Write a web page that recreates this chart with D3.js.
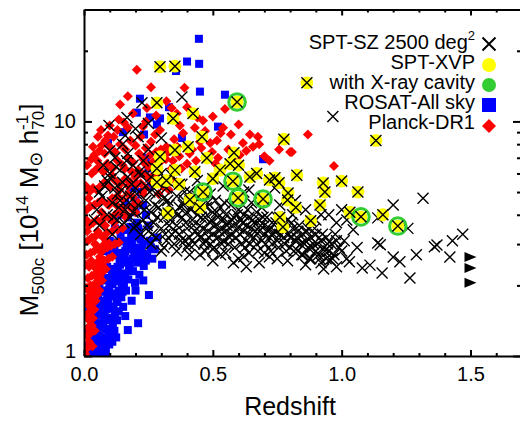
<!DOCTYPE html>
<html><head><meta charset="utf-8">
<script src="https://cdn.jsdelivr.net/npm/d3@7"></script>
<style>html,body{margin:0;padding:0;background:#fff;} svg{display:block;font-family:"Liberation Sans",Arial,Helvetica,sans-serif;}</style>
</head><body><svg id="c" width="520" height="424"></svg>
<script>
const xTicks=[0,0.5,1.0,1.5];
const xTickLabels=["0.0","0.5","1.0","1.5"];
const xMinor=[0.1,0.2,0.3,0.4,0.6,0.7,0.8,0.9,1.1,1.2,1.3,1.4,1.6];
const yTicks=[1,10];
const yTickLabels=["1","10"];
const yMinor=[2,3,4,5,6,7,8,9,20];

const rosat=[[0.02,1.0],[0.03,1.05],[0.04,1.02],[0.05,1.0],[0.06,1.03],[0.07,1.0],[0.025,1.12],[0.035,1.18],[0.045,1.1],[0.055,1.15],[0.065,1.12],[0.075,1.08],[0.085,1.05],[0.03,1.25],[0.04,1.3],[0.05,1.28],[0.06,1.22],[0.07,1.2],[0.08,1.18],[0.09,1.15],[0.035,1.4],[0.045,1.45],[0.055,1.38],[0.065,1.35],[0.075,1.32],[0.085,1.3],[0.095,1.28],[0.105,1.3],[0.04,1.55],[0.05,1.6],[0.06,1.52],[0.07,1.5],[0.08,1.48],[0.09,1.45],[0.1,1.42],[0.11,1.45],[0.12,1.5],[0.045,1.75],[0.055,1.8],[0.065,1.72],[0.075,1.68],[0.085,1.65],[0.095,1.62],[0.105,1.6],[0.115,1.62],[0.13,1.7],[0.05,1.95],[0.06,2.0],[0.07,1.9],[0.08,1.88],[0.09,1.85],[0.1,1.82],[0.11,1.8],[0.12,1.85],[0.135,1.9],[0.15,1.88],[0.06,2.2],[0.07,2.25],[0.08,2.15],[0.09,2.1],[0.1,2.05],[0.11,2.02],[0.12,2.08],[0.13,2.12],[0.145,2.2],[0.16,2.25],[0.07,2.5],[0.08,2.45],[0.09,2.4],[0.1,2.35],[0.11,2.3],[0.12,2.35],[0.13,2.4],[0.14,2.45],[0.155,2.5],[0.17,2.55],[0.19,2.6],[0.08,2.8],[0.1,2.75],[0.12,2.7],[0.14,2.75],[0.16,2.8],[0.18,2.85],[0.2,2.9],[0.1,3.1],[0.13,3.05],[0.16,3.1],[0.19,3.2],[0.22,3.15],[0.12,3.5],[0.15,3.45],[0.18,3.55],[0.21,3.5],[0.25,3.6],[0.14,4.0],[0.17,3.9],[0.2,4.1],[0.24,4.0],[0.16,4.5],[0.2,4.6],[0.23,4.4],[0.19,5.2],[0.22,5.0],[0.26,5.3],[0.21,6.0],[0.25,6.3],[0.28,6.1],[0.24,7.0],[0.3,7.2],[0.303,2.45],[0.252,1.82],[0.21,1.38],[0.17,1.29],[0.01,1.1],[0.015,1.3],[0.02,1.6],[0.446,22.5],[0.40,18.0],[0.447,17.6],[0.45,13.4],[0.547,13.0],[0.217,12.5],[0.357,16.4],[0.205,10.9],[0.256,10.4],[0.295,10.3],[0.283,9.7],[0.151,9.0],[0.093,8.1],[0.695,6.9],[0.233,8.8],[0.52,9.5],[0.38,8.5],[0.33,11.5],
[0.088,1.58],[0.097,1.92],[0.118,2.25],[0.126,1.72],[0.138,2.6],[0.147,2.05],[0.165,2.95],[0.175,2.35],[0.183,3.3],[0.195,2.75],[0.213,3.4],[0.228,3.0],[0.102,1.24],[0.112,1.36],[0.078,1.42],[0.068,1.62],[0.058,1.34],[0.048,1.22],[0.093,1.73],[0.108,2.18],[0.132,2.28],[0.158,2.65],[0.186,3.0],[0.205,3.7],[0.168,3.45],[0.142,3.25],[0.118,2.9],[0.125,1.2],[0.22,2.6],[0.26,2.9],[0.24,2.55],
[0.135,1.55],[0.145,1.78],[0.155,2.02],[0.163,1.9],[0.172,2.12],[0.178,2.48],[0.19,2.3],[0.198,2.05],[0.207,2.5],[0.215,2.22],[0.223,2.78],[0.232,2.42],[0.245,2.72],[0.255,3.1],[0.265,2.6],[0.275,2.85],[0.285,3.2],[0.128,1.42],[0.152,1.62],[0.118,1.28],[0.098,1.12],[0.082,1.02],[0.11,1.15],[0.185,1.72],[0.16,1.48],[0.23,2.1],[0.2,1.9]];

const planck=[[0.005,1.02],[0.012,1.08],[0.02,1.15],[0.01,1.22],[0.025,1.25],[0.015,1.32],[0.03,1.35],[0.02,1.42],[0.035,1.45],[0.01,1.5],[0.025,1.55],[0.04,1.58],[0.015,1.65],[0.03,1.7],[0.045,1.72],[0.02,1.8],[0.035,1.85],[0.05,1.82],[0.06,1.9],[0.01,1.95],[0.025,2.0],[0.04,2.02],[0.055,2.05],[0.07,2.1],[0.015,2.15],[0.03,2.2],[0.045,2.25],[0.06,2.2],[0.075,2.3],[0.085,2.35],[0.02,2.4],[0.035,2.45],[0.05,2.5],[0.065,2.45],[0.08,2.55],[0.095,2.6],[0.11,2.65],[0.01,2.7],[0.025,2.75],[0.04,2.8],[0.055,2.85],[0.07,2.8],[0.09,2.9],[0.105,2.95],[0.12,3.0],[0.135,3.05],[0.015,3.1],[0.03,3.2],[0.045,3.25],[0.06,3.3],[0.075,3.2],[0.09,3.35],[0.11,3.4],[0.13,3.45],[0.15,3.5],[0.02,3.6],[0.035,3.7],[0.05,3.8],[0.065,3.75],[0.08,3.9],[0.1,3.85],[0.12,4.0],[0.14,4.1],[0.16,4.05],[0.01,4.2],[0.025,4.35],[0.04,4.4],[0.055,4.5],[0.07,4.6],[0.09,4.45],[0.11,4.7],[0.13,4.8],[0.15,4.65],[0.17,4.9],[0.19,4.75],[0.02,5.0],[0.035,5.2],[0.05,5.1],[0.065,5.3],[0.08,5.5],[0.1,5.25],[0.12,5.6],[0.14,5.4],[0.16,5.7],[0.18,5.5],[0.2,5.8],[0.22,5.45],[0.03,6.0],[0.045,6.2],[0.06,6.4],[0.075,6.1],[0.09,6.6],[0.11,6.3],[0.13,6.8],[0.15,6.5],[0.17,7.0],[0.19,6.7],[0.21,6.2],[0.23,6.9],[0.25,6.4],[0.04,7.2],[0.06,7.5],[0.08,7.3],[0.1,7.8],[0.12,7.4],[0.14,8.0],[0.16,7.6],[0.18,8.3],[0.2,7.9],[0.22,8.6],[0.24,7.7],[0.26,8.2],[0.28,7.4],[0.035,7.8],[0.054,8.6],[0.093,8.7],[0.13,9.2],[0.17,9.4],[0.229,9.5],[0.295,9.2],[0.372,9.6],[0.43,9.4],[0.44,10.4],[0.462,10.1],[0.40,11.5],[0.34,11.4],[0.244,11.4],[0.205,16.6],[0.39,13.9],[0.547,11.3],[0.54,9.4],[0.57,8.8],[0.644,8.8],[0.675,8.6],[0.757,7.6],[0.80,7.4],[0.70,7.1],[0.617,8.1],[0.516,8.3],[0.497,7.4],[0.605,7.2],[0.656,7.8],[0.869,8.8],[0.807,7.4],[0.97,6.45],[0.3,6.8],[0.32,7.8],[0.35,8.4],[0.27,5.9],[0.31,5.6],[0.34,6.3],[0.37,7.1],[0.4,6.6],[0.42,7.6],[0.45,8.2],[0.48,6.9],[0.52,7.0],[0.56,7.6],[0.24,5.2],[0.26,5.6],[0.29,4.9],[0.33,5.1],[0.36,5.5],[0.21,4.5],[0.23,4.9],[0.18,4.3],[0.2,4.1],
[0.053,3.4],[0.068,4.1],[0.082,3.6],[0.097,4.4],[0.108,5.9],[0.117,3.7],[0.126,4.4],[0.138,5.1],[0.147,4.3],[0.158,6.3],[0.163,3.9],[0.172,5.3],[0.186,6.1],[0.193,4.4],[0.207,5.4],[0.214,7.3],[0.226,6.0],[0.237,6.6],[0.248,5.8],[0.257,7.2],[0.268,6.7],[0.276,8.8],[0.287,6.1],[0.298,7.6],[0.305,5.3],[0.318,6.9],[0.327,7.4],[0.338,5.7],[0.345,6.8],[0.362,7.8],[0.378,6.3],[0.385,8.9],[0.41,7.3],[0.435,6.8],[0.455,7.7],[0.47,9.1],[0.49,8.1],[0.51,6.6],[0.53,8.9],[0.58,7.0],[0.63,7.5],[0.68,8.0],[0.72,6.8],[0.062,2.65],[0.073,2.95],[0.087,3.1],[0.043,3.0],[0.028,2.55],[0.048,2.35],[0.038,1.95],[0.052,2.15],[0.027,1.62],[0.018,1.9],[0.033,1.1],[0.042,1.28],[0.008,1.75],[0.006,2.45],[0.012,3.4],[0.009,3.8],[0.018,4.7],[0.007,5.3],[0.012,6.5],[0.028,6.9],[0.052,6.8],[0.068,7.9],[0.083,8.3],[0.115,8.6],[0.135,10.2],[0.155,9.9],[0.19,10.8],[0.24,10.0],[0.1,9.6],[0.066,9.2],[0.14,11.8],[0.28,10.6],[0.32,12.2],[0.26,14.0],[0.17,12.8],[0.36,10.8],[0.5,10.5],[0.6,9.7]];

const sptsz=[[0.05,4.2],[0.06,3.6],[0.07,4.8],[0.08,5.3],[0.09,4.0],[0.097,9.6],[0.1,6.0],[0.11,4.5],[0.12,5.2],[0.12,7.0],[0.13,3.8],[0.14,4.6],[0.14,6.2],[0.15,5.5],[0.15,8.0],[0.16,4.2],[0.167,10.4],[0.17,5.8],[0.17,7.3],[0.18,3.9],[0.18,4.8],[0.19,6.5],[0.2,5.2],[0.2,3.6],[0.21,4.4],[0.21,8.6],[0.225,12.0],[0.22,5.9],[0.23,3.8],[0.23,6.8],[0.24,4.6],[0.24,5.3],[0.25,3.4],[0.25,7.6],[0.26,4.1],[0.26,5.8],[0.27,3.7],[0.27,6.4],[0.28,4.9],[0.28,3.2],[0.29,5.5],[0.29,4.3],[0.3,3.5],[0.3,6.0],[0.31,3.9],[0.31,4.7],[0.32,3.1],[0.32,5.2],[0.33,4.4],[0.33,3.6],[0.34,3.3],[0.34,5.9],[0.345,10.3],[0.35,4.1],[0.35,3.0],[0.36,4.8],[0.36,3.6],[0.37,3.3],[0.37,4.3],[0.38,12.7],[0.38,3.9],[0.38,5.4],[0.39,3.1],[0.39,4.6],[0.4,3.5],[0.4,4.1],[0.41,3.2],[0.41,5.0],[0.42,3.8],[0.42,4.4],[0.43,3.4],[0.43,3.0],[0.44,4.0],[0.44,4.8],[0.45,3.6],[0.45,3.2],[0.46,4.2],[0.46,3.5],[0.47,3.9],[0.47,3.1],[0.48,4.5],[0.48,3.4],[0.49,3.7],[0.49,3.0],[0.5,4.1],[0.5,3.3],[0.51,3.6],[0.51,4.6],[0.52,3.2],[0.52,3.9],[0.53,3.5],[0.53,4.3],[0.54,3.1],[0.54,3.8],[0.55,3.4],[0.55,4.0],[0.56,3.7],[0.56,3.0],[0.57,4.4],[0.57,3.3],[0.58,3.6],[0.58,3.9],[0.59,3.2],[0.6,3.5],[0.6,4.2],[0.61,3.0],[0.61,3.8],[0.62,3.4],[0.62,4.0],[0.63,3.6],[0.63,3.1],[0.64,3.9],[0.64,3.3],[0.65,3.5],[0.65,4.5],[0.66,3.2],[0.66,3.7],[0.67,3.0],[0.67,4.1],[0.68,3.4],[0.68,3.8],[0.69,3.1],[0.7,3.6],[0.7,3.3],[0.71,3.9],[0.72,3.2],[0.72,3.5],[0.73,3.0],[0.73,3.7],[0.74,3.4],[0.75,3.1],[0.75,3.9],[0.76,3.3],[0.77,3.6],[0.78,3.0],[0.78,3.4],[0.79,3.8],[0.8,3.2],[0.8,2.9],[0.81,3.5],[0.82,3.1],[0.83,2.8],[0.83,3.4],[0.84,3.0],[0.85,3.3],[0.85,2.7],[0.86,3.1],[0.87,2.9],[0.87,3.5],[0.88,3.2],[0.88,2.6],[0.89,3.0],[0.9,2.8],[0.9,3.3],[0.91,2.7],[0.92,3.1],[0.92,2.5],[0.93,2.9],[0.94,3.2],[0.94,2.6],[0.95,2.8],[0.955,2.57],[0.96,3.0],[0.97,2.7],[0.98,2.4],[0.98,3.1],[1.0,2.8],[1.03,2.52],[1.045,3.45],[1.06,2.9],[1.08,2.37],[1.11,2.44],[1.14,3.03],[1.15,2.98],[1.14,3.88],[1.157,2.26],[1.2,4.4],[1.2,2.64],[1.226,2.52],[1.257,3.5],[1.265,2.15],[1.29,2.7],[1.316,4.7],[1.36,2.92],[1.37,2.97],[1.42,2.64],[1.43,3.1],[1.47,3.3],[0.966,10.5],[1.0,4.2],[1.02,3.8],[0.92,4.0],[0.62,5.0],[0.7,4.7],[0.74,5.2],[0.82,4.6],[0.86,4.2],[0.9,3.8],[0.95,4.0],[0.98,3.7],[0.3,2.8],[0.45,2.7],[0.55,2.75],[0.62,2.65],[0.7,2.75],[0.6,2.6],[0.5,2.85],[0.4,2.9],[0.63,2.4],[0.5,2.55],[0.58,2.5],[0.68,2.5],[0.75,2.6],
[0.105,5.7],[0.115,3.9],[0.125,6.4],[0.135,4.3],[0.145,5.1],[0.155,3.7],[0.165,6.8],[0.175,4.5],[0.185,5.4],[0.195,3.5],[0.205,4.9],[0.215,6.1],[0.235,4.2],[0.245,3.6],[0.255,5.0],[0.265,3.3],[0.275,4.4],[0.285,3.9],[0.305,4.1],[0.315,3.3],[0.325,4.6],[0.335,3.8],[0.355,3.4],[0.365,4.0],[0.375,3.1],[0.385,4.4],[0.395,3.7],[0.405,3.0],[0.415,4.2],[0.425,3.6],[0.435,4.7],[0.445,3.3],[0.455,3.9],[0.465,3.0],[0.475,4.3],[0.485,3.2],[0.495,3.8],[0.505,2.9],[0.515,4.1],[0.525,3.4],[0.535,3.0],[0.545,4.5],[0.555,3.6],[0.565,3.2],[0.575,3.8],[0.585,2.9],[0.595,4.0],[0.605,3.3],[0.615,3.7],[0.625,2.9],[0.635,4.2],[0.645,3.0],[0.655,3.8],[0.665,3.4],[0.675,2.8],[0.685,3.6],[0.695,3.9],[0.705,3.0],[0.715,3.4],[0.725,2.8],[0.735,3.3],[0.745,3.7],[0.755,2.9],[0.765,3.5],[0.775,3.2],[0.785,2.8],[0.795,3.3],[0.805,3.7],[0.815,2.8],[0.825,3.2],[0.835,3.6],[0.845,2.7],[0.855,3.0],[0.865,3.4],[0.875,2.6],[0.885,2.9],[0.895,3.5],[0.905,3.0],[0.915,2.6],[0.925,3.3],[0.935,2.8],[0.945,3.0],[0.965,2.6],[0.975,3.3],[0.99,2.9],[1.01,3.1],[1.02,2.6],[0.19,4.1],[0.22,3.3],[0.26,3.0],[0.31,2.9],[0.36,2.8],[0.41,2.7],[0.47,2.8],[0.53,2.7],[0.64,2.75],[0.72,2.65],[0.79,2.55],[0.86,2.45],[0.93,2.35],[0.27,5.2],[0.33,5.5],[0.39,5.0],[0.44,5.6],[0.49,4.9],[0.54,5.3],[0.59,4.7],[0.64,5.1],[0.69,4.3],[0.76,4.4],[0.81,4.0],[0.11,3.3],[0.13,4.9],[0.09,5.6],[0.075,6.5],[0.1,7.5],[0.16,8.7],[0.2,9.3],[0.25,9.8],[0.3,8.5],[0.06,5.0],[0.04,3.8]];

const sptxvp=[[0.295,17.1],[0.353,17.2],[0.594,12.1],[0.865,14.6],[1.133,8.3],[0.283,12.0],[0.423,10.8],[0.346,10.3],[0.458,8.6],[0.776,8.4],[0.582,7.35],[0.295,7.07],[0.353,7.56],[0.404,7.8],[0.477,6.98],[0.528,6.2],[0.43,6.1],[0.353,6.2],[0.283,6.3],[0.826,5.9],[0.741,5.75],[0.757,5.48],[0.792,4.95],[0.644,5.8],[0.578,5.56],[0.462,5.0],[0.598,4.72],[0.695,4.67],[0.326,4.07],[0.72,5.63],[0.772,3.55],[0.79,4.62],[0.411,4.63],[0.928,5.47],[0.935,5.0],[1.0,5.57],[1.063,5.0],[0.916,4.4],[0.822,4.3],[1.032,4.1],[0.88,3.77],[1.16,4.0],[1.075,3.92],[1.218,3.58],[0.37,5.4],[0.5,5.7],[0.567,6.6],[0.32,5.6],[0.283,5.5],[0.6,6.5],[0.67,6.0],[0.45,4.3],[0.76,3.9]];

const cavity=[[0.594,12.1],[0.462,5.0],[0.578,5.56],[0.598,4.72],[0.695,4.67],[1.075,3.92],[1.218,3.58]];

const highz=[[1.5,2.64],[1.5,2.37],[1.5,2.05]];

const legendLabels=["SPT-SZ 2500 deg","SPT-XVP","with X-ray cavity","ROSAT-All sky","Planck-DR1"];

const svg=d3.select("#c");
const x=d3.scaleLinear().domain([0,1.7]).range([84,522]);
const y=d3.scaleLog().domain([1,30]).range([356,9.5]);

svg.append("defs").append("clipPath").attr("id","pc").append("rect")
  .attr("x",84).attr("y",9.5).attr("width",438).attr("height",346.5);

const plot=svg.append("g").attr("clip-path","url(#pc)");

const xPath=(s)=>`M${-s},${-s}L${s},${s}M${-s},${s}L${s},${-s}`;

plot.append("g").selectAll("rect").data(rosat).join("rect")
  .attr("x",d=>x(d[0])-4).attr("y",d=>y(d[1])-4).attr("width",8).attr("height",8).attr("fill","#0000ff");

plot.append("g").selectAll("path").data(planck).join("path")
  .attr("transform",d=>`translate(${x(d[0])},${y(d[1])})`)
  .attr("d","M0,-5L5,0L0,5L-5,0Z").attr("fill","#ff0000");

plot.append("g").selectAll("path").data(sptsz).join("path")
  .attr("transform",d=>`translate(${x(d[0])},${y(d[1])})`)
  .attr("d",xPath(5.5)).attr("stroke","#000").attr("stroke-width",1.4).attr("fill","none");

plot.append("g").selectAll("circle").data(sptxvp).join("circle")
  .attr("cx",d=>x(d[0])).attr("cy",d=>y(d[1])).attr("r",6.4).attr("fill","#ffff00");

plot.append("g").selectAll("circle").data(cavity).join("circle")
  .attr("cx",d=>x(d[0])).attr("cy",d=>y(d[1])).attr("r",8.3).attr("fill","none")
  .attr("stroke","#33cc33").attr("stroke-width",3);

plot.append("g").selectAll("path").data(sptxvp).join("path")
  .attr("transform",d=>`translate(${x(d[0])},${y(d[1])})`)
  .attr("d",xPath(5.5)).attr("stroke","#000").attr("stroke-width",1.4).attr("fill","none");

plot.append("g").selectAll("path").data(highz).join("path")
  .attr("transform",d=>`translate(${x(d[0])},${y(d[1])})`)
  .attr("d","M-6,-5L6,0L-6,5Z").attr("fill","#000");

// axes
function styleAxis(g){g.selectAll("path.domain").attr("stroke","#000").attr("stroke-width",2);
  g.selectAll(".tick line").attr("stroke","#000").attr("stroke-width",2);
  g.selectAll("text").attr("font-size",20).attr("fill","#000").attr("font-family","Liberation Sans, Arial, sans-serif");}
svg.append("g").attr("transform","translate(0,356)")
  .call(d3.axisBottom(x).tickValues(xTicks).tickFormat((d,i)=>xTickLabels[i]).tickSize(-6).tickSizeOuter(0).tickPadding(11)).call(styleAxis);
svg.append("g").attr("transform","translate(0,356)")
  .call(d3.axisBottom(x).tickValues(xMinor).tickFormat("").tickSize(-3).tickSizeOuter(0)).call(styleAxis).select(".domain").remove();
svg.append("g").attr("transform","translate(0,9.5)")
  .call(d3.axisTop(x).tickValues(xTicks).tickFormat("").tickSize(-6).tickSizeOuter(0)).call(styleAxis);
svg.append("g").attr("transform","translate(0,9.5)")
  .call(d3.axisTop(x).tickValues(xMinor).tickFormat("").tickSize(-3).tickSizeOuter(0)).call(styleAxis).select(".domain").remove();
const gL=svg.append("g").attr("transform","translate(84,0)")
  .call(d3.axisLeft(y).tickValues(yTicks).tickFormat((d,i)=>yTickLabels[i]).tickSize(-8).tickSizeOuter(0).tickPadding(8)).call(styleAxis);
svg.append("g").attr("transform","translate(84,0)")
  .call(d3.axisLeft(y).tickValues(yMinor).tickFormat("").tickSize(-4).tickSizeOuter(0)).call(styleAxis).select(".domain").remove();
svg.append("g").attr("transform","translate(521,0)")
  .call(d3.axisRight(y).tickValues(yTicks).tickFormat("").tickSize(-8).tickSizeOuter(0)).call(styleAxis);
svg.append("g").attr("transform","translate(521,0)")
  .call(d3.axisRight(y).tickValues(yMinor).tickFormat("").tickSize(-4).tickSizeOuter(0)).call(styleAxis).select(".domain").remove();
gL.selectAll(".tick text").filter(d=>d===1).attr("dy","0.05em");

// axis titles
svg.append("text").attr("x",290).attr("y",415).attr("text-anchor","middle")
  .attr("font-size",25).text("Redshift");
const yl=svg.append("text").attr("transform","translate(38,210) rotate(-90)").attr("text-anchor","middle").attr("font-size",26);
yl.append("tspan").text("M");
yl.append("tspan").attr("font-size",17).attr("dy",6).text("500c");
yl.append("tspan").attr("dy",-6).text(" [10");
yl.append("tspan").attr("font-size",17).attr("dy",-10).text("14");
yl.append("tspan").attr("dy",10).text(" M");
yl.append("tspan").attr("font-size",18).attr("dy",4).attr("font-family","DejaVu Sans").text("\u2299");
yl.append("tspan").attr("dy",-4).text(" h");
yl.append("tspan").attr("font-size",17).attr("dy",-10).text("-1");
yl.append("tspan").attr("font-size",17).attr("dx",-15).attr("dy",16).text("70");
yl.append("tspan").attr("dy",-6).text("]");

// legend
const lg=svg.append("g");
const lx=475, sx=489;
const rows=[49,69,89,109,129];
legendLabels.forEach((t,i)=>{
  const tx=lg.append("text").attr("x",lx).attr("y",rows[i]).attr("text-anchor","end").attr("font-size",20).text(t);
  if(i===0) tx.append("tspan").attr("font-size",13).attr("dy",-9).text("2");
});
lg.append("path").attr("transform",`translate(${sx},${rows[0]-5})`).attr("d",xPath(6.5)).attr("stroke","#000").attr("stroke-width",2).attr("fill","none");
lg.append("circle").attr("cx",sx).attr("cy",rows[1]-4).attr("r",7).attr("fill","#ffff00");
lg.append("circle").attr("cx",sx).attr("cy",rows[2]-4).attr("r",7).attr("fill","#33cc33");
lg.append("rect").attr("x",sx-7).attr("y",rows[3]-11).attr("width",14).attr("height",14).attr("fill","#0000ff");
lg.append("path").attr("transform",`translate(${sx},${rows[4]-3})`).attr("d","M0,-7L7,0L0,7L-7,0Z").attr("fill","#ff0000");
</script></body></html>
